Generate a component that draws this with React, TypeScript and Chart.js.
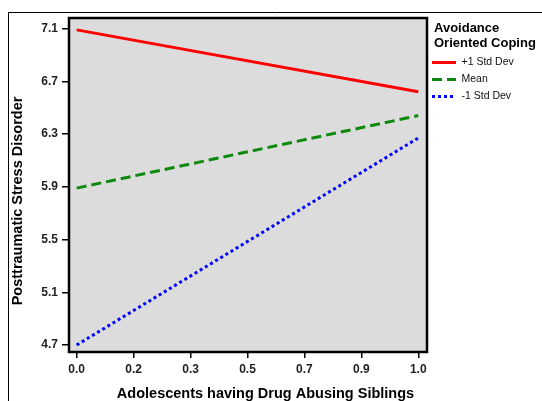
import React, { useEffect, useRef } from "react";
import { Chart, registerables } from "chart.js";

Chart.register(...registerables);

// ---- data ----
const xValues = [0, 1];
const plusOneSD = [7.09, 6.62];
const meanSD = [5.89, 6.44];
const minusOneSD = [4.7, 6.27];

const seriesLabels = ["+1 Std Dev", "Mean", "-1 Std Dev"];
const legendTitle = ["Avoidance", "Oriented Coping"];

const xTickValues = [0, 0.1667, 0.3333, 0.5, 0.6667, 0.8333, 1];
const xTickLabels = ["0.0", "0.2", "0.3", "0.5", "0.7", "0.9", "1.0"];
const yTickValues = [4.7, 5.1, 5.5, 5.9, 6.3, 6.7, 7.1];

const xTitle = "Adolescents having Drug Abusing Siblings";
const yTitle = "Posttraumatic Stress Disorder";

const FONT = "'Liberation Sans', Arial, sans-serif";

const toPoints = (ys: number[]) => ys.map((y, i) => ({ x: xValues[i], y }));

const decorPlugin = {
  id: "decor",
  beforeDraw(chart: any) {
    const { ctx, chartArea } = chart;
    ctx.save();
    ctx.fillStyle = "#ffffff";
    ctx.fillRect(0, 0, chart.width, chart.height);
    // outer frame
    ctx.strokeStyle = "#000";
    ctx.lineWidth = 1;
    ctx.beginPath();
    ctx.moveTo(8.5, chart.height);
    ctx.lineTo(8.5, 12.5);
    ctx.lineTo(chart.width, 12.5);
    ctx.stroke();
    // plot background
    ctx.fillStyle = "#dcdcdc";
    ctx.fillRect(chartArea.left, chartArea.top, chartArea.right - chartArea.left, chartArea.bottom - chartArea.top);
    ctx.restore();
  },
  afterDraw(chart: any) {
    const { ctx, chartArea } = chart;
    ctx.save();
    // plot border
    ctx.strokeStyle = "#000";
    ctx.lineWidth = 2.5;
    ctx.strokeRect(chartArea.left, chartArea.top, chartArea.right - chartArea.left, chartArea.bottom - chartArea.top);

    // axis titles
    ctx.fillStyle = "#000";
    ctx.font = `bold 14.5px ${FONT}`;
    ctx.textAlign = "center";
    ctx.textBaseline = "middle";
    ctx.fillText(xTitle, 265.5, 393.5);
    ctx.save();
    ctx.translate(18, 201);
    ctx.rotate(-Math.PI / 2);
    ctx.fillText(yTitle, 0, 0);
    ctx.restore();

    // legend
    const lx = 432;
    ctx.textAlign = "left";
    ctx.font = `bold 13px ${FONT}`;
    ctx.fillText(legendTitle[0], 434, 28);
    ctx.fillText(legendTitle[1], 434, 43.5);
    ctx.font = `10.5px ${FONT}`;
    const ys = [62.5, 79.5, 96.5];
    chart.data.datasets.forEach((ds: any, i: number) => {
      const y = ys[i];
      ctx.strokeStyle = ds.borderColor;
      ctx.lineWidth = ds.borderWidth;
      ctx.setLineDash(ds.borderDash || []);
      ctx.beginPath();
      ctx.moveTo(lx, y);
      ctx.lineTo(lx + 24, y);
      ctx.stroke();
      ctx.setLineDash([]);
      ctx.fillStyle = "#111";
      ctx.fillText(ds.label, lx + 29.5, y);
    });
    ctx.restore();
  },
};

export default function App() {
  const ref = useRef<HTMLCanvasElement | null>(null);
  useEffect(() => {
    if (!ref.current) return;
    const chart = new Chart(ref.current, {
      type: "line",
      data: {
        datasets: [
          {
            label: seriesLabels[0],
            data: toPoints(plusOneSD),
            borderColor: "#ff0000",
            borderWidth: 3,
            pointRadius: 0,
            fill: false,
          },
          {
            label: seriesLabels[1],
            data: toPoints(meanSD),
            borderColor: "#0d8a0d",
            borderWidth: 3,
            borderDash: [10, 5],
            pointRadius: 0,
            fill: false,
          },
          {
            label: seriesLabels[2],
            data: toPoints(minusOneSD),
            borderColor: "#0000ff",
            borderWidth: 3,
            borderDash: [3, 3],
            pointRadius: 0,
            fill: false,
          },
        ],
      },
      options: {
        responsive: false,
        animation: false,
        devicePixelRatio: 1,
        layout: { padding: { left: 0, top: 18, right: 115, bottom: 0 } },
        plugins: { legend: { display: false }, tooltip: { enabled: false } },
        scales: {
          x: {
            type: "linear",
            min: -0.0225,
            max: 1.0255,
            afterBuildTicks: (scale: any) => {
              scale.ticks = xTickValues.map((v) => ({ value: v }));
            },
            afterFit: (scale: any) => {
              scale.height = 49;
            },
            ticks: {
              autoSkip: false,
              maxRotation: 0,
              padding: 4,
              color: "#222",
              font: { family: FONT, size: 12, weight: "bold" },
              callback: (_v: any, i: number) => xTickLabels[i],
            },
            grid: { drawOnChartArea: false, drawTicks: true, tickLength: 6, color: "#000", lineWidth: 1.5 },
            border: { display: false },
          },
          y: {
            type: "linear",
            min: 4.647,
            max: 7.18,
            afterBuildTicks: (scale: any) => {
              scale.ticks = yTickValues.map((v) => ({ value: v }));
            },
            afterFit: (scale: any) => {
              scale.width = 69;
            },
            ticks: {
              autoSkip: false,
              padding: 4,
              color: "#222",
              font: { family: FONT, size: 12, weight: "bold" },
              callback: (v: any) => Number(v).toFixed(1),
            },
            grid: { drawOnChartArea: false, drawTicks: true, tickLength: 7, color: "#000", lineWidth: 1.5 },
            border: { display: false },
          },
        },
      },
      plugins: [decorPlugin],
    } as any);
    return () => chart.destroy();
  }, []);
  return (
    <canvas
      ref={ref}
      width={542}
      height={401}
      style={{ position: "absolute", left: 0, top: 0, width: 542, height: 401, display: "block" }}
    />
  );
}
